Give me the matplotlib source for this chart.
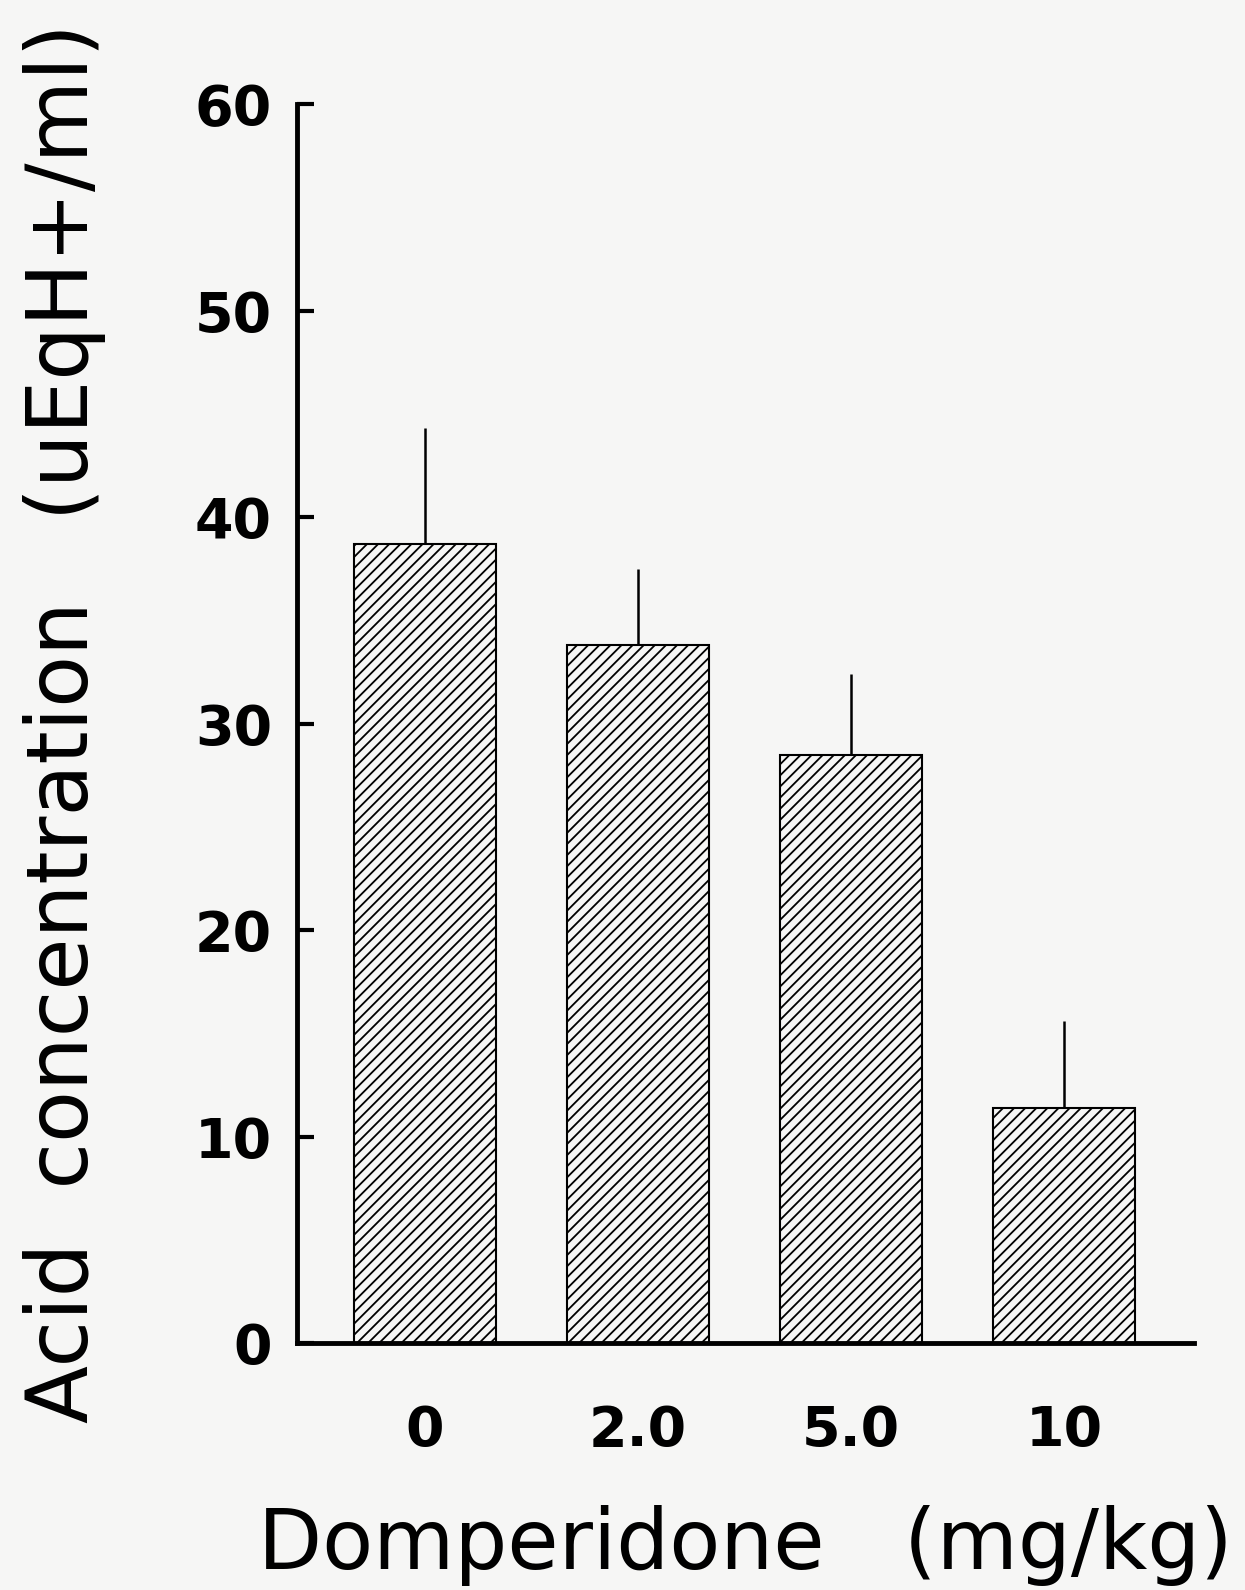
import matplotlib
matplotlib.use("Agg")
import matplotlib.pyplot as plt

doses = ["0", "2.0", "5.0", "10"]
acid = [38.7, 33.8, 28.5, 11.4]
sem = [5.6, 3.7, 3.9, 4.2]

plt.rcParams['font.family'] = ['DejaVu Sans']
plt.rcParams['hatch.linewidth'] = 1.3

fig = plt.figure(figsize=(12.45, 15.9), dpi=100, facecolor='#f6f6f5')
ax = fig.add_axes([0.2386, 0.1553, 0.959 - 0.2386, 0.9346 - 0.1553])
ax.set_facecolor('#f6f6f5')

x = list(range(len(doses)))
ax.bar(x, acid, width=0.67, color='#f6f6f5', edgecolor='black', linewidth=1.5, hatch='///')
ax.errorbar(x, acid, yerr=[[0] * len(sem), sem], fmt='none', ecolor='black', elinewidth=1.8, capsize=0)

ax.set_xlim(-0.6, 3.61)
ax.set_ylim(0, 60)
ax.set_yticks([0, 10, 20, 30, 40, 50, 60])
ax.set_xticks(x)
ax.set_xticklabels(doses)

for s in ['top', 'right']:
    ax.spines[s].set_visible(False)
for s in ['left', 'bottom']:
    ax.spines[s].set_linewidth(3.5)

ax.tick_params(axis='y', direction='in', length=12, width=3, labelsize=40, pad=18)
ax.tick_params(axis='x', length=0, labelsize=40, pad=44)
for lab in ax.get_xticklabels() + ax.get_yticklabels():
    lab.set_fontweight('bold')

ax.set_ylabel('Acid  concentration   (uEqH+/ml)', fontsize=61, labelpad=64)
ax.set_xlabel('Domperidone   (mg/kg)', fontsize=60, labelpad=34)

fig.savefig('out.png', dpi=100, facecolor=fig.get_facecolor())
